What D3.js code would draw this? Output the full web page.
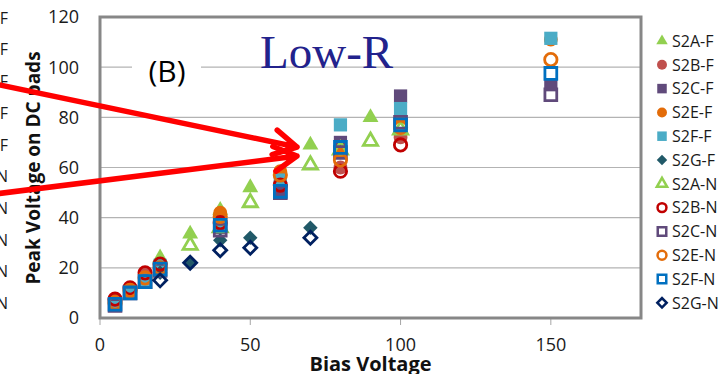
<!DOCTYPE html>
<html>
<head>
<meta charset="utf-8">
<script src="https://cdn.jsdelivr.net/npm/d3@7"></script>
<style>
  body { margin: 0; background: #fff; }
  text { font-family: "Open Sans", sans-serif; }
</style>
</head>
<body>
<div id="chart"></div>
<script>
// bias voltages per group of series
const bias_a_f = [20, 30, 40, 50, 70, 90];
const bias_a_n = [30, 40, 50, 70, 80, 90, 100];
const bias_b = [5, 10, 15, 20, 40, 60, 80, 100];
const bias_cef = [5, 10, 15, 20, 40, 60, 80, 100, 150];
const bias_g = [20, 30, 40, 50, 70];

// peak voltage on DC pads
const s2a_f = [24, 33.5, 43, 52, 69, 80];
const s2b_f = [7, 11.5, 17.5, 21, 39, 54, 60, 72];
const s2c_f = [5.5, 10.5, 15, 19.5, 36, 51, 70, 88.5, 93];
const s2e_f = [6.5, 11, 16, 20, 42, 58.5, 66, 80, 111];
const s2f_f = [6, 10.5, 15, 21, 38, 55, 77, 83.5, 111.5];
const s2g_f = [18, 22, 31, 32, 36];
const s2a_n = [29, 36, 46, 61, 67, 70.5, 75];
const s2b_n = [7.5, 12, 18, 21.5, 38, 53, 58.5, 69];
const s2c_n = [5, 10, 14.5, 19, 35, 50, 66, 78, 89];
const s2e_n = [6, 11, 16, 20, 40.5, 57, 63, 76, 103];
const s2f_n = [5.5, 10, 14.5, 19.5, 37, 50.5, 68, 77, 97.5];
const s2g_n = [15, 22, 27, 28, 32];

const series_names = ['S2A-F', 'S2B-F', 'S2C-F', 'S2E-F', 'S2F-F', 'S2G-F',
                      'S2A-N', 'S2B-N', 'S2C-N', 'S2E-N', 'S2F-N', 'S2G-N'];
const x_ticks = [0, 50, 100, 150];
const y_ticks = [0, 20, 40, 60, 80, 100, 120];
// letters of a neighbouring legend, cut by the left edge
const cut_letters = ['F', 'F', 'F', 'F', 'F', 'N', 'N', 'N', 'N', 'N'];

const series = [
    { name: series_names[0], x: bias_a_f, y: s2a_f, shape: 'tri', color: '#92d050', open: false },
    { name: series_names[1], x: bias_b, y: s2b_f, shape: 'circle', color: '#c0504d', open: false },
    { name: series_names[2], x: bias_cef, y: s2c_f, shape: 'square', color: '#604a7b', open: false },
    { name: series_names[3], x: bias_cef, y: s2e_f, shape: 'circle', color: '#e36c09', open: false },
    { name: series_names[4], x: bias_cef, y: s2f_f, shape: 'square', color: '#4bacc6', open: false },
    { name: series_names[5], x: bias_g, y: s2g_f, shape: 'diamond', color: '#215968', open: false },
    { name: series_names[6], x: bias_a_n, y: s2a_n, shape: 'tri', color: '#92d050', open: true },
    { name: series_names[7], x: bias_b, y: s2b_n, shape: 'circle', color: '#c00000', open: true },
    { name: series_names[8], x: bias_cef, y: s2c_n, shape: 'square', color: '#604a7b', open: true },
    { name: series_names[9], x: bias_cef, y: s2e_n, shape: 'circle', color: '#e36c09', open: true },
    { name: series_names[10], x: bias_cef, y: s2f_n, shape: 'square', color: '#0070c0', open: true },
    { name: series_names[11], x: bias_g, y: s2g_n, shape: 'diamond', color: '#002060', open: true }
];

const chart_width = 721;
const chart_height = 374;
const plot = { left: 100, right: 641, top: 17, bottom: 318 };

const svg = d3.select('#chart')
    .append('svg')
    .attr('width', chart_width)
    .attr('height', chart_height);

const x_scale = d3.scaleLinear()
    .domain([0, 180])
    .range([plot.left, plot.right]);

const y_scale = d3.scaleLinear()
    .domain([0, 120])
    .range([plot.bottom, plot.top]);

// marker paths, k = 1 is the plot size
function markerPath(shape, open, k) {
    const big = open ? 0.8 : 1;
    if (shape === 'circle') return d3.symbol(d3.symbolCircle, 150 * big * k * k)();
    if (shape === 'square') return d3.symbol(d3.symbolSquare, 175 * big * k * k)();
    if (shape === 'tri') return d3.symbol(d3.symbolTriangle, 110 * big * k * k)();
    return d3.symbol(d3.symbolSquare, 105 * big * k * k)();
}

// gridlines
svg.append('g')
    .selectAll('line')
    .data(y_ticks.filter(d => d > 0 && d < 120))
    .enter()
    .append('line')
    .attr('x1', plot.left)
    .attr('x2', plot.right)
    .attr('y1', d => y_scale(d))
    .attr('y2', d => y_scale(d))
    .attr('stroke', '#b3b3b3')
    .attr('stroke-width', 1.2);

// x ticks
svg.append('g')
    .selectAll('line')
    .data(x_ticks)
    .enter()
    .append('line')
    .attr('x1', d => x_scale(d))
    .attr('x2', d => x_scale(d))
    .attr('y1', plot.bottom)
    .attr('y2', plot.bottom + 7)
    .attr('stroke', '#a6a6a6')
    .attr('stroke-width', 1);

// plot border
svg.append('rect')
    .attr('x', plot.left)
    .attr('y', plot.top)
    .attr('width', plot.right - plot.left)
    .attr('height', plot.bottom - plot.top)
    .attr('fill', 'none')
    .attr('stroke', '#878787')
    .attr('stroke-width', 3);

// tick labels
svg.append('g')
    .selectAll('text')
    .data(x_ticks)
    .enter()
    .append('text')
    .text(d => d)
    .attr('x', d => x_scale(d))
    .attr('y', 351)
    .attr('font-size', 18)
    .attr('text-anchor', 'middle')
    .attr('fill', '#1a1a1a');

svg.append('g')
    .selectAll('text')
    .data(y_ticks)
    .enter()
    .append('text')
    .text(d => d)
    .attr('x', 79)
    .attr('y', d => y_scale(d))
    .attr('dy', '0.36em')
    .attr('font-size', 18)
    .attr('text-anchor', 'end')
    .attr('fill', '#1a1a1a');

// axis titles
svg.append('text')
    .text('Bias Voltage')
    .attr('x', (plot.left + plot.right) / 2)
    .attr('y', 371)
    .attr('font-size', 20)
    .attr('font-weight', 'bold')
    .attr('text-anchor', 'middle')
    .attr('fill', '#111');

svg.append('text')
    .text('Peak Voltage on DC pads')
    .attr('transform', 'translate(40,168) rotate(-90)')
    .attr('font-size', 19)
    .attr('font-weight', 'bold')
    .attr('text-anchor', 'middle')
    .attr('fill', '#111');

// (B) label with white box over the gridline
svg.append('rect')
    .attr('x', 132)
    .attr('y', 52)
    .attr('width', 69)
    .attr('height', 38)
    .attr('fill', '#fff');

svg.append('text')
    .text('(B)')
    .attr('x', 167)
    .attr('y', 82)
    .attr('font-size', 30)
    .attr('text-anchor', 'middle')
    .attr('fill', '#000');

svg.append('text')
    .text('Low-R')
    .attr('x', 260)
    .attr('y', 68)
    .attr('font-size', 47)
    .style('font-family', '"Liberation Serif", "Times New Roman", serif')
    .attr('fill', '#22228c');

// markers
series.forEach(s => {
    svg.append('g')
        .selectAll('path')
        .data(s.x.map((xv, i) => [xv, s.y[i]]))
        .enter()
        .append('path')
        .attr('d', markerPath(s.shape, s.open, 1))
        .attr('transform', d => `translate(${x_scale(d[0])},${y_scale(d[1])})` + (s.shape === 'diamond' ? ' rotate(45)' : ''))
        .attr('fill', s.open ? 'none' : s.color)
        .attr('stroke', s.open ? s.color : 'none')
        .attr('stroke-width', s.open ? 2.8 : 0);
});

// legend
const legend = svg.append('g')
    .selectAll('g')
    .data(series)
    .enter()
    .append('g')
    .attr('transform', (d, i) => `translate(662,${41 + i * 23.8})`);

legend.append('path')
    .attr('d', d => markerPath(d.shape, d.open, 0.72))
    .attr('transform', d => d.shape === 'diamond' ? 'rotate(45)' : null)
    .attr('fill', d => d.open ? 'none' : d.color)
    .attr('stroke', d => d.open ? d.color : 'none')
    .attr('stroke-width', d => d.open ? 2.5 : 0);

legend.append('text')
    .text(d => d.name)
    .attr('x', 10)
    .attr('dy', '0.36em')
    .attr('font-size', 16)
    .attr('fill', '#1a1a1a');

// cut-off legend letters at the left edge
svg.append('g')
    .selectAll('text')
    .data(cut_letters)
    .enter()
    .append('text')
    .text(d => d)
    .attr('x', 8)
    .attr('y', (d, i) => 18 + i * 31.7)
    .attr('dy', '0.36em')
    .attr('font-size', 16)
    .attr('text-anchor', 'end')
    .attr('fill', '#1a1a1a');

// red arrows
const arrows = [
    { from: [-5, 84], to: [297, 147] },
    { from: [-5, 194], to: [297, 156] }
];

arrows.forEach(a => {
    const ang = Math.atan2(a.from[1] - a.to[1], a.from[0] - a.to[0]);
    const len = 26;
    const spread = 0.5;
    const p1 = [a.to[0] + len * Math.cos(ang + spread), a.to[1] + len * Math.sin(ang + spread)];
    const p2 = [a.to[0] + len * Math.cos(ang - spread), a.to[1] + len * Math.sin(ang - spread)];
    svg.append('path')
        .attr('d', `M${a.from}L${a.to}M${p1}L${a.to}L${p2}`)
        .attr('fill', 'none')
        .attr('stroke', '#ff0000')
        .attr('stroke-width', 5.5)
        .attr('stroke-linecap', 'round')
        .attr('stroke-linejoin', 'round');
});
</script>
</body>
</html>
